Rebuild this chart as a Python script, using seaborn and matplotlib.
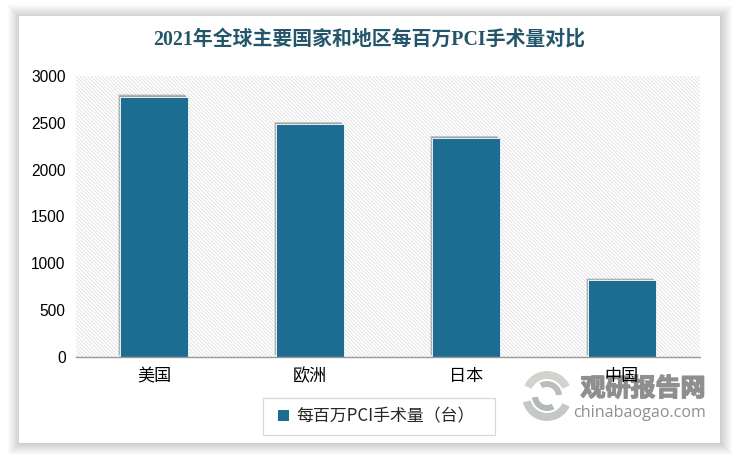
import matplotlib
matplotlib.use("Agg")
import matplotlib.pyplot as plt
import matplotlib.patheffects as pe
from matplotlib.patches import Rectangle, Wedge
import pandas as pd
import seaborn as sns

regions = ["美国", "欧洲", "日本", "中国"]
pci_per_million = [2780, 2490, 2340, 820]
series_name = "每百万PCI手术量（台）"
y_ticks = [0, 500, 1000, 1500, 2000, 2500, 3000]

sns.set_theme(style="white")
cjk = ["Noto Sans CJK SC", "DejaVu Sans"]
plt.rcParams["font.family"] = cjk
plt.rcParams["hatch.linewidth"] = 0.4
plt.rcParams["hatch.color"] = "#cfcfcf"

W, H = 738, 458
bar_color = "#1d6c91"
fig = plt.figure(figsize=(W / 100, H / 100), dpi=100, facecolor="white")

# page layer in pixels: card, soft shadow, logo, legend box
bg = fig.add_axes([0, 0, 1, 1], zorder=0)
bg.set_xlim(0, W)
bg.set_ylim(H, 0)
bg.axis("off")
for grow in range(12, 0, -1):
    bg.add_patch(Rectangle((19 - grow + 1, 16 - grow + 1), 701 + 2 * grow - 1, 427 + 2 * grow - 1,
                           fc="#000000", ec="none", alpha=0.016))
bg.add_patch(Rectangle((19, 16), 701, 427, fc="white", ec="none"))
bg.add_patch(Rectangle((262.5, 397.5), 232, 37, fc="white", ec="#d9d9d9", lw=0.9))

ax = fig.add_axes([76 / W, 1 - 357 / H, 624 / W, 281 / H], zorder=1)
ax.patch.set_facecolor("white")
ax.patch.set_hatch("\\" * 9)
ax.patch.set_edgecolor("#cfcfcf")
ax.patch.set_linewidth(0)

df = pd.DataFrame({"region": regions, "value": pci_per_million})
sns.barplot(data=df, x="region", y="value", color=bar_color, saturation=1, width=0.43,
            label=series_name, ax=ax, legend=False)
soft_shadow = [pe.SimplePatchShadow(offset=(-d, d), shadow_rgbFace="#404040", alpha=0.14)
               for d in (1.6, 1.2, 0.8, 0.4)]
for bar in ax.patches:
    bar.set_edgecolor("#e6f2f4")
    bar.set_linewidth(0.7)
    bar.set_path_effects(soft_shadow + [pe.Normal()])

ax.set_xlim(-0.5, 3.5)
ax.set_ylim(0, 3000)
ax.set_yticks(y_ticks)
ax.set_xlabel("")
ax.set_ylabel("")
for side in ["top", "left", "right"]:
    ax.spines[side].set_visible(False)
ax.spines["bottom"].set_color("#9a9a9a")
ax.spines["bottom"].set_linewidth(1)
ax.tick_params(axis="y", length=0, pad=7.5, labelsize=11.2, labelcolor="black")
ax.tick_params(axis="x", length=0, pad=7.5, labelsize=12.3, labelcolor="black")
for label in ax.get_yticklabels():
    label.set_fontfamily(["Liberation Sans", "Noto Sans CJK SC"])
for label in ax.get_xticklabels():
    label.set_fontweight("light")

fig.text(369 / W, 1 - 40 / H, "2021年全球主要国家和地区每百万PCI手术量对比",
         ha="center", va="center", fontsize=14.3, fontweight="bold", color="#24566b",
         family=["Liberation Serif", "Noto Sans CJK SC"])

# watermark
for r_out, r_in, t1, t2, col in [(25, 17, 25, 165, "#c4c8c9"), (25, 17, 205, 335, "#d2d2ce"),
                                 (15, 9, 60, 175, "#b4b8b8"), (15, 9, 240, 355, "#bcbcb8")]:
    bg.add_patch(Wedge((547, 396), r_out, t1, t2, width=r_out - r_in, fc=col, ec="none"))
wm_title = fig.text(643 / W, 1 - 389 / H, "观研报告网", ha="center", va="center", fontsize=18,
                    fontweight="bold", color="#8f8f8f", zorder=0, family=cjk)
wm_title.set_path_effects([pe.withStroke(linewidth=1, foreground="#8f8f8f")])
fig.text(640 / W, 1 - 413 / H, "chinabaogao.com", ha="center", va="center", fontsize=11.6,
         color="#8f8f8f", zorder=0, family=["Open Sans", "DejaVu Sans"])

handles, labels = ax.get_legend_handles_labels()
leg = fig.legend(handles, labels, loc="center", bbox_to_anchor=(376.5 / W, 1 - 416 / H),
                 frameon=False, fontsize=12.2, handlelength=0.62, handleheight=0.62,
                 handletextpad=0.45, borderpad=0, borderaxespad=0)
leg.set_zorder(5)
for handle in leg.legend_handles:
    handle.set_edgecolor("none")
    handle.set_path_effects([])

fig.savefig("out.png", dpi=100)
